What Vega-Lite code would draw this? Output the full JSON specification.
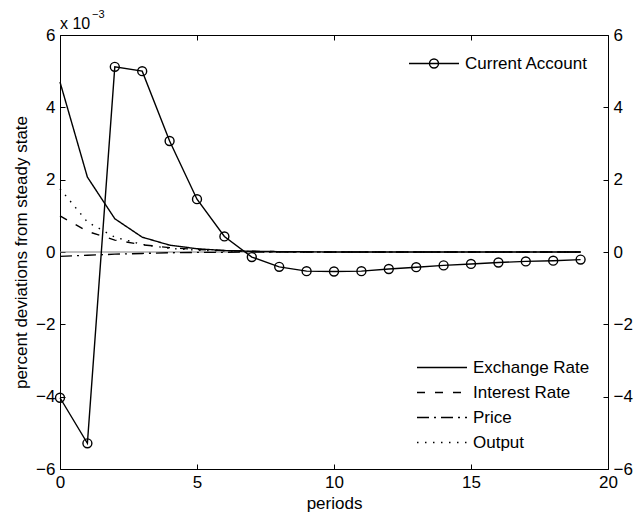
{
  "$schema": "https://vega.github.io/schema/vega-lite/v6.json",
  "width": 548,
  "height": 434,
  "autosize": {"type": "none"},
  "padding": {"left": 60, "top": 35, "right": 29, "bottom": 48},
  "background": "white",
  "datasets": {
    "zero": [{"start": 0, "end": 19, "level": 0}],
    "scale_note": [{"period": 0, "value": 6, "base": "x 10", "exponent": "−3"}],
    "irf": [
      {"period": 0, "Exchange Rate": 4.7, "Interest Rate": 1.0, "Price": -0.12, "Output": 1.75},
      {"period": 1, "Exchange Rate": 2.07, "Interest Rate": 0.57, "Price": -0.09, "Output": 0.83},
      {"period": 2, "Exchange Rate": 0.92, "Interest Rate": 0.33, "Price": -0.06, "Output": 0.41},
      {"period": 3, "Exchange Rate": 0.41, "Interest Rate": 0.2, "Price": -0.04, "Output": 0.21},
      {"period": 4, "Exchange Rate": 0.19, "Interest Rate": 0.12, "Price": -0.02, "Output": 0.1},
      {"period": 5, "Exchange Rate": 0.09, "Interest Rate": 0.07, "Price": -0.01, "Output": 0.05},
      {"period": 6, "Exchange Rate": 0.04, "Interest Rate": 0.04, "Price": -0.01, "Output": 0.03},
      {"period": 7, "Exchange Rate": 0.02, "Interest Rate": 0.02, "Price": 0, "Output": 0.01},
      {"period": 8, "Exchange Rate": 0.01, "Interest Rate": 0.01, "Price": 0, "Output": 0.005},
      {"period": 9, "Exchange Rate": 0.005, "Interest Rate": 0.005, "Price": 0, "Output": 0},
      {"period": 10, "Exchange Rate": 0, "Interest Rate": 0, "Price": 0, "Output": 0},
      {"period": 11, "Exchange Rate": 0, "Interest Rate": 0, "Price": 0, "Output": 0},
      {"period": 12, "Exchange Rate": 0, "Interest Rate": 0, "Price": 0, "Output": 0},
      {"period": 13, "Exchange Rate": 0, "Interest Rate": 0, "Price": 0, "Output": 0},
      {"period": 14, "Exchange Rate": 0, "Interest Rate": 0, "Price": 0, "Output": 0},
      {"period": 15, "Exchange Rate": 0, "Interest Rate": 0, "Price": 0, "Output": 0},
      {"period": 16, "Exchange Rate": 0, "Interest Rate": 0, "Price": 0, "Output": 0},
      {"period": 17, "Exchange Rate": 0, "Interest Rate": 0, "Price": 0, "Output": 0},
      {"period": 18, "Exchange Rate": 0, "Interest Rate": 0, "Price": 0, "Output": 0},
      {"period": 19, "Exchange Rate": 0, "Interest Rate": 0, "Price": 0, "Output": 0}
    ],
    "ca": [
      {"period": 0, "value": -4.03},
      {"period": 1, "value": -5.29},
      {"period": 2, "value": 5.12},
      {"period": 3, "value": 5.0},
      {"period": 4, "value": 3.07},
      {"period": 5, "value": 1.46},
      {"period": 6, "value": 0.43},
      {"period": 7, "value": -0.14},
      {"period": 8, "value": -0.41},
      {"period": 9, "value": -0.53},
      {"period": 10, "value": -0.54},
      {"period": 11, "value": -0.53},
      {"period": 12, "value": -0.47},
      {"period": 13, "value": -0.42},
      {"period": 14, "value": -0.37},
      {"period": 15, "value": -0.33},
      {"period": 16, "value": -0.29},
      {"period": 17, "value": -0.26},
      {"period": 18, "value": -0.24},
      {"period": 19, "value": -0.21}
    ]
  },
  "layer": [
    {
      "layer": [
        {
          "data": {"name": "zero"},
          "mark": {"type": "rule", "color": "#808080", "strokeWidth": 1},
          "encoding": {
            "x": {"field": "start", "type": "quantitative", "title": "periods", "scale": {"domain": [0, 20]}, "axis": {"values": [0, 5, 10, 15, 20]}},
            "x2": {"field": "end"},
            "y": {"field": "level", "type": "quantitative", "title": "percent deviations from steady state", "scale": {"domain": [-6, 6]}, "axis": {"values": [-6, -4, -2, 0, 2, 4, 6]}}
          }
        },
        {
          "data": {"name": "irf"},
          "transform": [{"fold": ["Exchange Rate", "Interest Rate", "Price", "Output"], "as": ["series", "value"]}],
          "mark": {"type": "line", "color": "black", "strokeWidth": 1.4},
          "encoding": {
            "x": {"field": "period", "type": "quantitative", "title": "periods"},
            "y": {"field": "value", "type": "quantitative", "title": "percent deviations from steady state"},
            "strokeDash": {
              "field": "series", "type": "nominal",
              "scale": {"domain": ["Exchange Rate", "Interest Rate", "Price", "Output"], "range": [[1, 0], [8, 10], [12, 5, 2, 5], [1.5, 6.5]]},
              "legend": {"title": null, "orient": "bottom-right", "offset": 18, "symbolType": "stroke", "symbolSize": 2500, "symbolStrokeWidth": 1.4, "symbolStrokeColor": "black", "clipHeight": 17, "rowPadding": 7, "labelOffset": 5}
            }
          }
        },
        {
          "data": {"name": "ca"},
          "mark": {"type": "line", "strokeWidth": 1.4, "point": {"filled": false, "size": 80, "strokeWidth": 1.4}},
          "encoding": {
            "x": {"field": "period", "type": "quantitative", "title": "periods"},
            "y": {"field": "value", "type": "quantitative", "title": "percent deviations from steady state"},
            "color": {
              "datum": "Current Account", "type": "nominal",
              "scale": {"range": ["black"]},
              "legend": {"title": null, "orient": "top-right", "offset": 20, "symbolType": "M-1,0H1M-0.18,0A0.18,0.18 0 1,1 0.18,0A0.18,0.18 0 1,1 -0.18,0", "symbolSize": 2500, "symbolStrokeWidth": 1.4, "symbolStrokeColor": "black", "symbolFillColor": "transparent", "clipHeight": 17, "labelOffset": 5}
            }
          }
        },
        {
          "data": {"name": "scale_note"},
          "mark": {"type": "text", "align": "left", "baseline": "alphabetic", "font": "Liberation Sans", "fontSize": 16, "color": "black", "dy": -6},
          "encoding": {
            "x": {"field": "period", "type": "quantitative", "title": "periods"},
            "y": {"field": "value", "type": "quantitative", "title": "percent deviations from steady state"},
            "text": {"field": "base"}
          }
        },
        {
          "data": {"name": "scale_note"},
          "mark": {"type": "text", "align": "left", "baseline": "alphabetic", "font": "Liberation Sans", "fontSize": 11, "color": "black", "dx": 32, "dy": -17},
          "encoding": {
            "x": {"field": "period", "type": "quantitative", "title": "periods"},
            "y": {"field": "value", "type": "quantitative", "title": "percent deviations from steady state"},
            "text": {"field": "exponent"}
          }
        }
      ]
    },
    {
      "data": {"name": "ca"},
      "mark": {"type": "point", "opacity": 0},
      "encoding": {
        "x": {"field": "period", "type": "quantitative", "scale": {"domain": [0, 20]}, "axis": {"orient": "top", "labels": false, "title": null, "values": [0, 5, 10, 15, 20]}},
        "y": {"field": "value", "type": "quantitative", "scale": {"domain": [-6, 6]}, "axis": {"orient": "right", "title": null, "values": [-6, -4, -2, 0, 2, 4, 6]}}
      }
    }
  ],
  "resolve": {"scale": {"x": "independent", "y": "independent"}},
  "config": {
    "view": {"stroke": "black", "strokeWidth": 1},
    "axis": {
      "domain": false, "grid": false, "tickSize": -5, "tickColor": "black", "tickWidth": 1,
      "labelFont": "Liberation Sans", "labelFontSize": 17, "labelColor": "black", "labelPadding": 10,
      "labelFlush": false, "labelOverlap": false, "labelBound": false,
      "titleFont": "Liberation Sans", "titleFontSize": 17, "titleFontWeight": "normal", "titleColor": "black", "titlePadding": 5
    },
    "legend": {"labelFont": "Liberation Sans", "labelFontSize": 17, "labelColor": "black", "padding": 0}
  }
}
